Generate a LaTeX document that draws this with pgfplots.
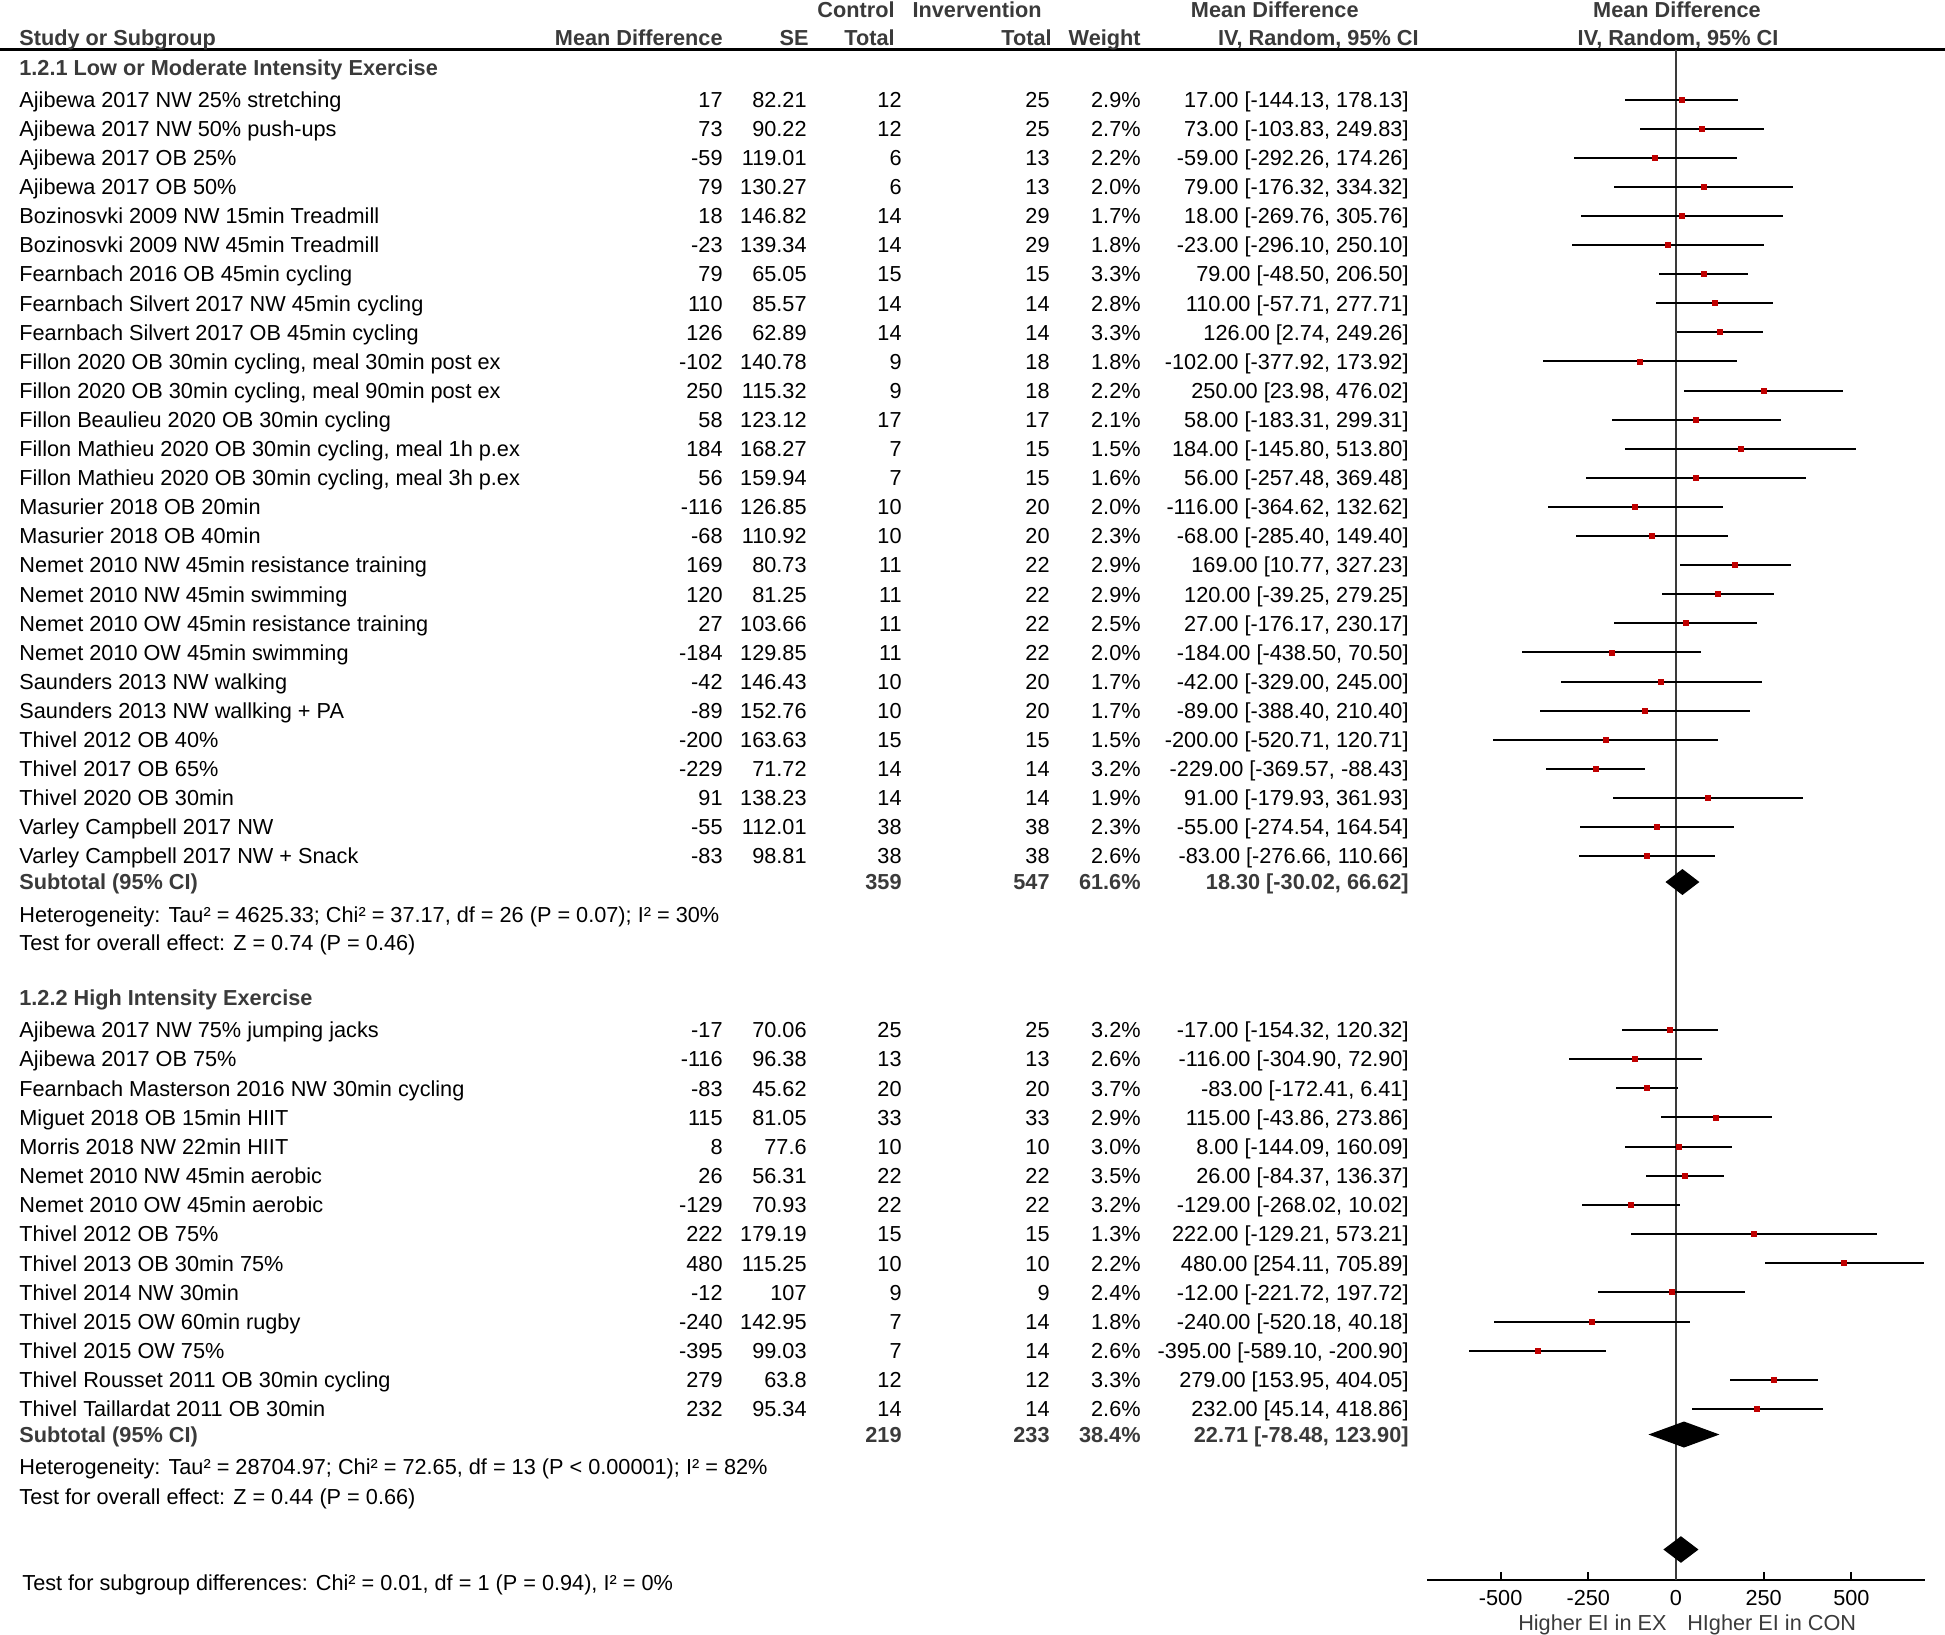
\documentclass[border=0pt]{standalone}
\usepackage{pgfplots}
\pgfplotsset{compat=1.18}
\usepackage{pgfplotstable}
\usepackage{fontspec}
\setmainfont{Liberation Sans}
\definecolor{hdr}{HTML}{3A3A3A}
\definecolor{mk}{HTML}{C00000}
\newcommand\fs{\fontsize{10.85bp}{13bp}\selectfont}

% y = vertical position of the row (pixels from top)
\pgfplotstableread[col sep=semicolon]{
y;name;md;se;nc;ni;w;ci
99.5;Ajibewa 2017 NW 25\% stretching;17;82.21;12;25;2.9\%;17.00 [-144.13, 178.13]
128.6;Ajibewa 2017 NW 50\% push-ups;73;90.22;12;25;2.7\%;73.00 [-103.83, 249.83]
157.7;Ajibewa 2017 OB 25\%;-59;119.01;6;13;2.2\%;-59.00 [-292.26, 174.26]
186.8;Ajibewa 2017 OB 50\%;79;130.27;6;13;2.0\%;79.00 [-176.32, 334.32]
215.9;Bozinosvki 2009 NW 15min Treadmill;18;146.82;14;29;1.7\%;18.00 [-269.76, 305.76]
245.0;Bozinosvki 2009 NW 45min Treadmill;-23;139.34;14;29;1.8\%;-23.00 [-296.10, 250.10]
274.1;Fearnbach 2016 OB 45min cycling;79;65.05;15;15;3.3\%;79.00 [-48.50, 206.50]
303.2;Fearnbach Silvert 2017 NW 45min cycling;110;85.57;14;14;2.8\%;110.00 [-57.71, 277.71]
332.3;Fearnbach Silvert 2017 OB 45min cycling;126;62.89;14;14;3.3\%;126.00 [2.74, 249.26]
361.4;Fillon 2020 OB 30min cycling, meal 30min post ex;-102;140.78;9;18;1.8\%;-102.00 [-377.92, 173.92]
390.5;Fillon 2020 OB 30min cycling, meal 90min post ex;250;115.32;9;18;2.2\%;250.00 [23.98, 476.02]
419.6;Fillon Beaulieu 2020 OB 30min cycling;58;123.12;17;17;2.1\%;58.00 [-183.31, 299.31]
448.7;Fillon Mathieu 2020 OB 30min cycling, meal 1h p.ex;184;168.27;7;15;1.5\%;184.00 [-145.80, 513.80]
477.8;Fillon Mathieu 2020 OB 30min cycling, meal 3h p.ex;56;159.94;7;15;1.6\%;56.00 [-257.48, 369.48]
506.9;Masurier 2018 OB 20min;-116;126.85;10;20;2.0\%;-116.00 [-364.62, 132.62]
536.0;Masurier 2018 OB 40min;-68;110.92;10;20;2.3\%;-68.00 [-285.40, 149.40]
565.1;Nemet 2010 NW 45min resistance training;169;80.73;11;22;2.9\%;169.00 [10.77, 327.23]
594.2;Nemet 2010 NW 45min swimming;120;81.25;11;22;2.9\%;120.00 [-39.25, 279.25]
623.3;Nemet 2010 OW 45min resistance training;27;103.66;11;22;2.5\%;27.00 [-176.17, 230.17]
652.4;Nemet 2010 OW 45min swimming;-184;129.85;11;22;2.0\%;-184.00 [-438.50, 70.50]
681.5;Saunders 2013 NW walking;-42;146.43;10;20;1.7\%;-42.00 [-329.00, 245.00]
710.6;Saunders 2013 NW wallking + PA;-89;152.76;10;20;1.7\%;-89.00 [-388.40, 210.40]
739.7;Thivel 2012 OB 40\%;-200;163.63;15;15;1.5\%;-200.00 [-520.71, 120.71]
768.8;Thivel 2017 OB 65\%;-229;71.72;14;14;3.2\%;-229.00 [-369.57, -88.43]
797.9;Thivel 2020 OB 30min;91;138.23;14;14;1.9\%;91.00 [-179.93, 361.93]
827.0;Varley Campbell 2017 NW;-55;112.01;38;38;2.3\%;-55.00 [-274.54, 164.54]
856.1;Varley Campbell 2017 NW + Snack;-83;98.81;38;38;2.6\%;-83.00 [-276.66, 110.66]
1030.0;Ajibewa 2017 NW 75\% jumping jacks;-17;70.06;25;25;3.2\%;-17.00 [-154.32, 120.32]
1059.15;Ajibewa 2017 OB 75\%;-116;96.38;13;13;2.6\%;-116.00 [-304.90, 72.90]
1088.3;Fearnbach Masterson 2016 NW 30min cycling;-83;45.62;20;20;3.7\%;-83.00 [-172.41, 6.41]
1117.45;Miguet 2018 OB 15min HIIT;115;81.05;33;33;2.9\%;115.00 [-43.86, 273.86]
1146.6;Morris 2018 NW 22min HIIT;8;77.6;10;10;3.0\%;8.00 [-144.09, 160.09]
1175.75;Nemet 2010 NW 45min aerobic;26;56.31;22;22;3.5\%;26.00 [-84.37, 136.37]
1204.9;Nemet 2010 OW 45min aerobic;-129;70.93;22;22;3.2\%;-129.00 [-268.02, 10.02]
1234.05;Thivel 2012 OB 75\%;222;179.19;15;15;1.3\%;222.00 [-129.21, 573.21]
1263.2;Thivel 2013 OB 30min 75\%;480;115.25;10;10;2.2\%;480.00 [254.11, 705.89]
1292.35;Thivel 2014 NW 30min;-12;107;9;9;2.4\%;-12.00 [-221.72, 197.72]
1321.5;Thivel 2015 OW 60min rugby;-240;142.95;7;14;1.8\%;-240.00 [-520.18, 40.18]
1350.65;Thivel 2015 OW 75\%;-395;99.03;7;14;2.6\%;-395.00 [-589.10, -200.90]
1379.8;Thivel Rousset 2011 OB 30min cycling;279;63.8;12;12;3.3\%;279.00 [153.95, 404.05]
1408.95;Thivel Taillardat 2011 OB 30min;232;95.34;14;14;2.6\%;232.00 [45.14, 418.86]
}\studies

\pgfplotstableread[col sep=semicolon]{
y;name;nc;ni;w;ci
882;Subtotal (95\% CI);359;547;61.6\%;18.30 [-30.02, 66.62]
1434.5;Subtotal (95\% CI);219;233;38.4\%;22.71 [-78.48, 123.90]
}\subtot

% #1 table, #2 x position, #3 column, #4 anchor, #5 extra style
\newcommand\txt[5]{%
  \addplot[only marks, mark=none, point meta=explicit symbolic, nodes near coords,
    every node near coord/.append style={anchor=#4, inner sep=0pt, #5}]
    table[x expr=#2, y expr=-\thisrow{y}-7.8, meta=#3] {#1};}

\begin{document}
\begin{tikzpicture}[font=\fs]
\useasboundingbox (0,0) rectangle (972.5bp,-817.5bp);
% ---------------- text table ----------------
\begin{axis}[at={(0,0)}, anchor=north west, scale only axis,
  width=972.5bp, height=817.5bp, xmin=0, xmax=1945, ymin=-1635, ymax=0,
  hide axis, clip=false]
\addplot[black, line width=1.5bp] coordinates {(0,-50) (1945,-50)};
% headers
\node[anchor=base west, inner sep=0pt, font=\fs\bfseries, text=hdr] at (axis cs:19,-45.8) {Study or Subgroup};
\node[anchor=base east, inner sep=0pt, font=\fs\bfseries, text=hdr] at (axis cs:723,-45.8) {Mean Difference};
\node[anchor=base east, inner sep=0pt, font=\fs\bfseries, text=hdr] at (axis cs:809,-45.8) {SE};
\node[anchor=base east, inner sep=0pt, font=\fs\bfseries, text=hdr] at (axis cs:895,-17.8) {Control};
\node[anchor=base east, inner sep=0pt, font=\fs\bfseries, text=hdr] at (axis cs:895,-45.8) {Total};
\node[anchor=base east, inner sep=0pt, font=\fs\bfseries, text=hdr] at (axis cs:1042,-17.8) {Invervention};
\node[anchor=base east, inner sep=0pt, font=\fs\bfseries, text=hdr] at (axis cs:1052,-45.8) {Total};
\node[anchor=base east, inner sep=0pt, font=\fs\bfseries, text=hdr] at (axis cs:1141,-45.8) {Weight};
\node[anchor=base east, inner sep=0pt, font=\fs\bfseries, text=hdr] at (axis cs:1359,-17.8) {Mean Difference};
\node[anchor=base east, inner sep=0pt, font=\fs\bfseries, text=hdr] at (axis cs:1419,-45.8) {IV, Random, 95\% CI};
\node[anchor=base, inner sep=0pt, font=\fs\bfseries, text=hdr] at (axis cs:1677,-17.8) {Mean Difference};
\node[anchor=base, inner sep=0pt, font=\fs\bfseries, text=hdr] at (axis cs:1678,-45.8) {IV, Random, 95\% CI};
% group headers and footers
\node[anchor=base west, inner sep=0pt, font=\fs\bfseries, text=hdr] at (axis cs:19,-75.8) {1.2.1 Low or Moderate Intensity Exercise};
\node[anchor=base west, inner sep=0pt] at (axis cs:19,-922.8) {Heterogeneity: Tau² = 4625.33; Chi² = 37.17, df = 26 (P = 0.07); I² = 30\%};
\node[anchor=base west, inner sep=0pt] at (axis cs:19,-950.8) {Test for overall effect: Z = 0.74 (P = 0.46)};
\node[anchor=base west, inner sep=0pt, font=\fs\bfseries, text=hdr] at (axis cs:19,-1005.8) {1.2.2 High Intensity Exercise};
\node[anchor=base west, inner sep=0pt] at (axis cs:19,-1474.8) {Heterogeneity: Tau² = 28704.97; Chi² = 72.65, df = 13 (P < 0.00001); I² = 82\%};
\node[anchor=base west, inner sep=0pt] at (axis cs:19,-1504.8) {Test for overall effect: Z = 0.44 (P = 0.66)};
\node[anchor=base west, inner sep=0pt] at (axis cs:22,-1590.8) {Test for subgroup differences: Chi² = 0.01, df = 1 (P = 0.94), I² = 0\%};
% study rows
\txt{\studies}{19}{name}{base west}{}
\txt{\studies}{723}{md}{base east}{}
\txt{\studies}{807}{se}{base east}{}
\txt{\studies}{902}{nc}{base east}{}
\txt{\studies}{1050}{ni}{base east}{}
\txt{\studies}{1141}{w}{base east}{}
\txt{\studies}{1409}{ci}{base east}{}
% subtotal rows
\txt{\subtot}{19}{name}{base west}{font=\fs\bfseries, text=hdr}
\txt{\subtot}{902}{nc}{base east}{font=\fs\bfseries, text=hdr}
\txt{\subtot}{1050}{ni}{base east}{font=\fs\bfseries, text=hdr}
\txt{\subtot}{1141}{w}{base east}{font=\fs\bfseries, text=hdr}
\txt{\subtot}{1409}{ci}{base east}{font=\fs\bfseries, text=hdr}
\end{axis}
% ---------------- forest plot ----------------
\begin{axis}[at={(713.5bp,-25bp)}, anchor=north west, scale only axis,
  width=249bp, height=764.75bp, xmin=-710, xmax=710, ymin=-1579.5, ymax=-50,
  axis x line*=bottom, axis y line=none, clip=false,
  x axis line style={-, line width=1bp, black},
  xtick={-500,-250,0,250,500}, xticklabels={-500,-250,0,250,500},
  tick align=inside, major tick length=4bp,
  every tick/.style={black, line width=1bp},
  xticklabel style={anchor=base, yshift=-13.15bp, inner sep=0pt}]
\addplot[color=hdr, line width=1bp] coordinates {(0,-50) (0,-1579.5)};
\addplot[only marks, mark=square*, mark size=1.25bp, color=mk,
  error bars/.cd, x dir=both, x explicit, error mark=none,
  error bar style={black, line width=1bp}]
  table[x=md, y expr=-\thisrow{y}, x error expr=1.96*\thisrow{se}] {\studies};
% subtotal and total diamonds
\addplot[fill=black, draw=none] coordinates {(-30.02,-882) (18.30,-869) (66.62,-882) (18.30,-895)} --cycle;
\addplot[fill=black, draw=none] coordinates {(-78.48,-1434.5) (22.71,-1421.5) (123.90,-1434.5) (22.71,-1447.5)} --cycle;
\addplot[fill=black, draw=none] coordinates {(-36,-1549.5) (14,-1536.2) (64,-1549.5) (14,-1562.8)} --cycle;
\node[anchor=base east, inner sep=0pt, text=hdr] at (axis cs:-25.7,-1630.8) {Higher EI in EX};
\node[anchor=base west, inner sep=0pt, text=hdr] at (axis cs:31,-1630.8) {HIgher EI in CON};
\end{axis}
\end{tikzpicture}
\end{document}
